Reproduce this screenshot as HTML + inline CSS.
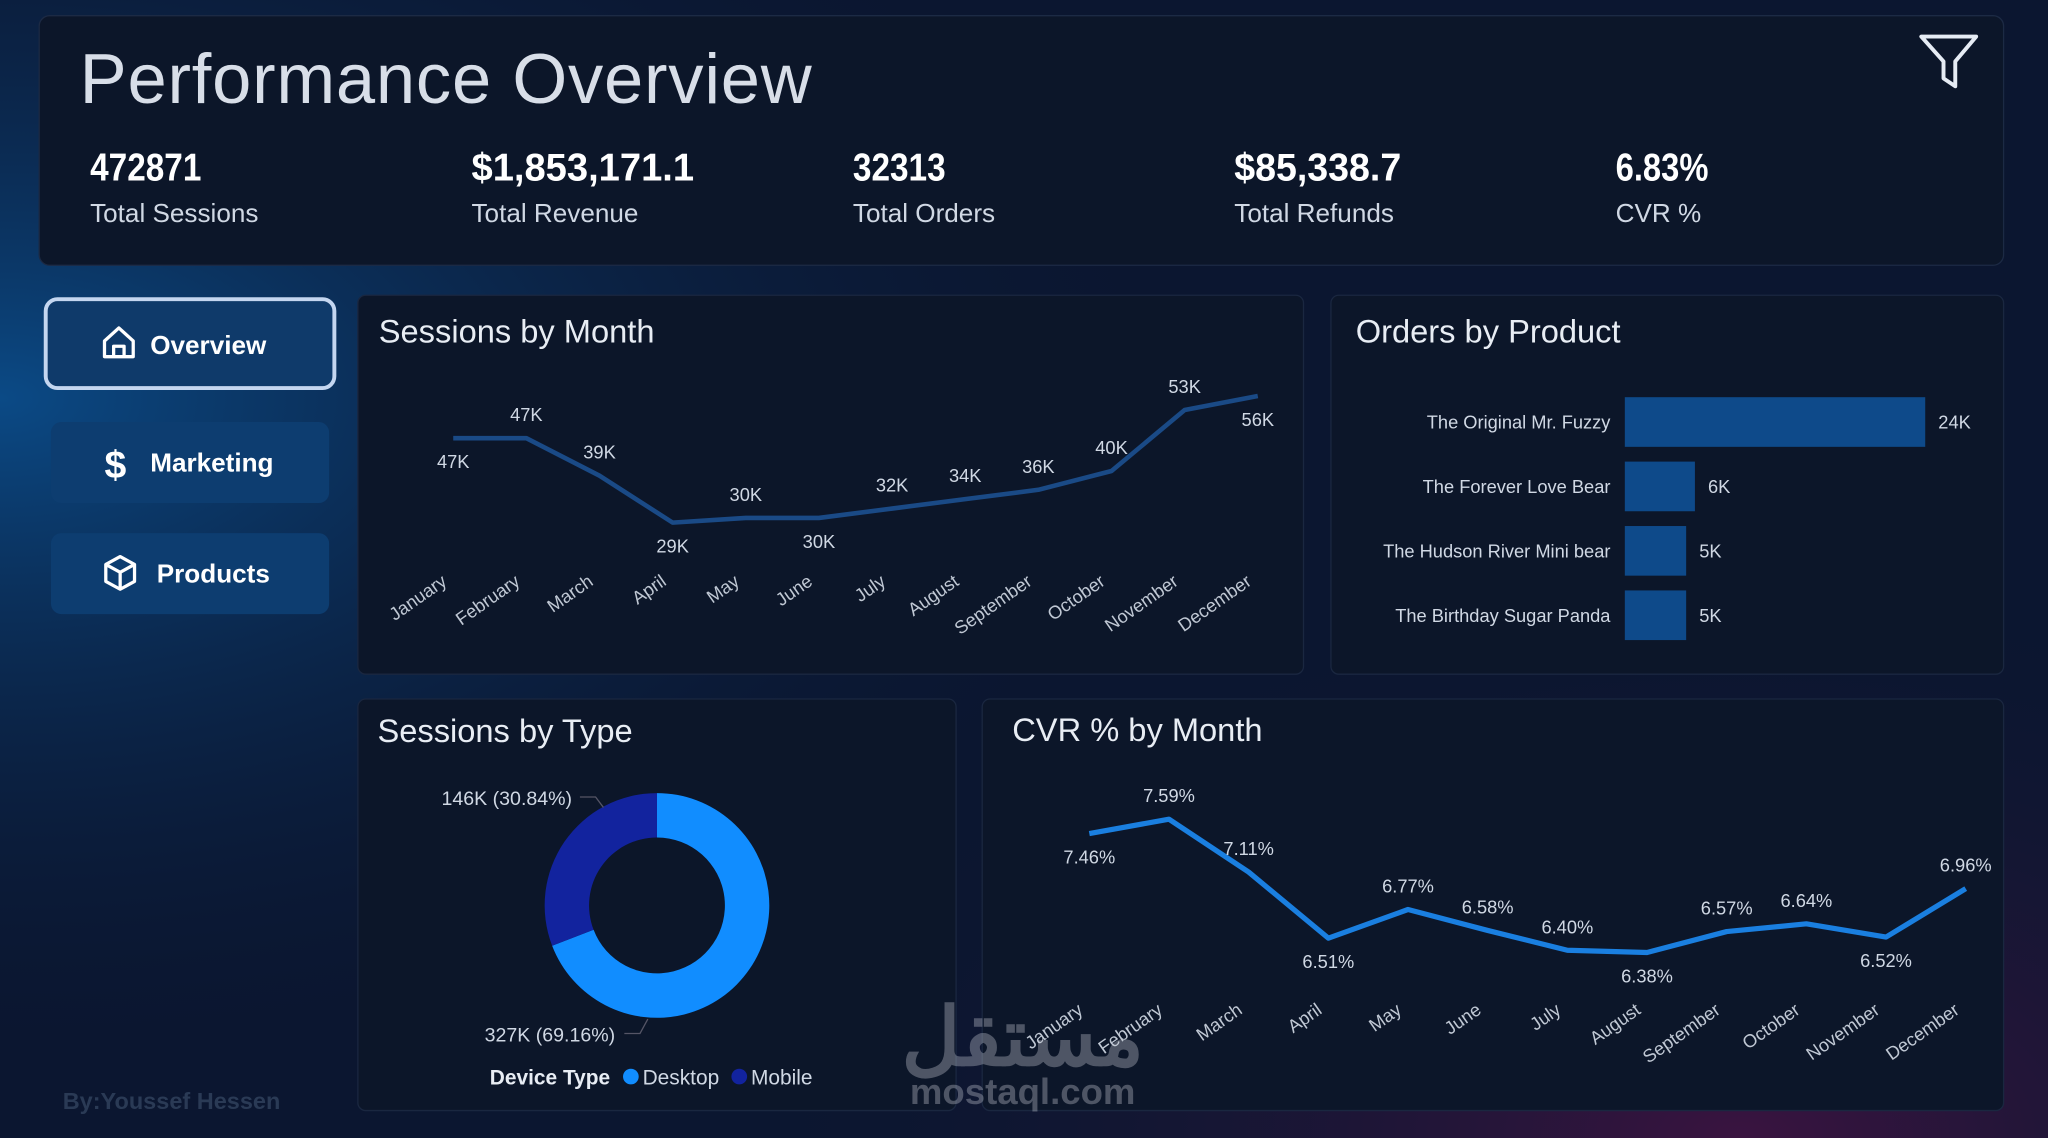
<!DOCTYPE html>
<html><head><meta charset="utf-8"><style>
html,body{margin:0;padding:0;background:#0a1428;overflow:hidden}
svg{display:block;font-family:"Liberation Sans","Noto Sans CJK SC",sans-serif}
</style></head><body>
<svg id="root" width="2048" height="1138" viewBox="0 0 1568 871" preserveAspectRatio="none">
<defs>
<radialGradient id="glowL" cx="0" cy="0.35" r="0.6"><stop offset="0" stop-color="#0b4a86"/><stop offset="1" stop-color="#0a1630" stop-opacity="0"/></radialGradient>
<radialGradient id="glowR" cx="0.85" cy="1" r="0.5"><stop offset="0" stop-color="#3a1440"/><stop offset="1" stop-color="#0a1630" stop-opacity="0"/></radialGradient>
</defs>
<rect width="1568" height="871" fill="#0b1630"/>
<rect width="1568" height="871" fill="url(#glowL)"/>
<rect width="1568" height="871" fill="url(#glowR)"/>

<g>
<rect x="30" y="12" width="1504" height="191" rx="8" fill="#0c1629" stroke="#1c2a44"/>
<text x="61" y="79" font-size="54" fill="#d8dee8" letter-spacing="0.6">Performance Overview</text>
<g><path d="M1471 28 L1513 28 L1497 47 L1497 66 L1488 60 L1488 47 Z" fill="none" stroke="#e6ecf4" stroke-width="3" stroke-linejoin="round"/></g>
</g>
<g id="kpis"></g>

<g>
<g>
<rect x="35" y="229" width="221" height="68" rx="9" fill="#0f3a6a" stroke="#c4d6f0" stroke-width="3"/>
<path d="M80 273 L80 261 L91 251 L102 261 L102 273 Z M87 273 L87 265 L95 265 L95 273" fill="none" stroke="#fff" stroke-width="2.5" stroke-linejoin="round"/>
<text x="115" y="271" font-size="20" font-weight="bold" fill="#fff">Overview</text></g>
<g>
<rect x="39" y="323" width="213" height="62" rx="8" fill="#0d3d70"/>
<text x="80" y="366" font-size="30" font-weight="bold" fill="#fff">$</text>
<text x="115" y="361" font-size="20" font-weight="bold" fill="#fff">Marketing</text></g>
<g>
<rect x="39" y="408" width="213" height="62" rx="8" fill="#0d3d70"/>
<path d="M92 426 L103 432 L103 445 L92 451 L81 445 L81 432 Z M81 432 L92 438 L103 432 M92 438 L92 451" fill="none" stroke="#fff" stroke-width="2.5" stroke-linejoin="round"/>
<text x="120" y="446" font-size="20" font-weight="bold" fill="#fff">Products</text></g>
</g>
<text x="48" y="849" font-size="18" font-weight="bold" fill="#2a3a55">By:Youssef Hessen</text>

<g>
<rect x="274" y="226" width="724" height="290" rx="6" fill="#0c1629" stroke="#1a2740"/>
<text x="290" y="262" font-size="25" fill="#e8edf4">Sessions by Month</text>
<g id="sessChart"></g></g>

<g>
<rect x="1019" y="226" width="515" height="290" rx="6" fill="#0c1629" stroke="#1a2740"/>
<text x="1038" y="262" font-size="25" fill="#e8edf4">Orders by Product</text>
<g id="ordChart"></g></g>

<g>
<rect x="274" y="535" width="458" height="315" rx="6" fill="#0c1629" stroke="#1a2740"/>
<text x="289" y="568" font-size="25" fill="#e8edf4">Sessions by Type</text>
<g id="donut"></g>
<g>
<text x="375" y="830" font-size="16" font-weight="bold" fill="#e8edf4">Device Type</text>
<circle cx="483" cy="824" r="6" fill="#118dff"/><text x="492" y="830" font-size="16" fill="#d0d8e4">Desktop</text>
<circle cx="566" cy="824" r="6" fill="#12239e"/><text x="575" y="830" font-size="16" fill="#d0d8e4">Mobile</text></g>
</g>

<g>
<rect x="752" y="535" width="782" height="315" rx="6" fill="#0c1629" stroke="#1a2740"/>
<text x="775" y="567" font-size="25" fill="#e8edf4">CVR % by Month</text>
<g id="cvrChart"></g></g>

<g opacity="0.35">
<text x="783" y="815" font-size="62" font-weight="bold" fill="#c8ccd4" text-anchor="middle" font-family="'Noto Sans CJK SC',sans-serif">مستقل</text>
<text x="783" y="845" font-size="28" font-weight="bold" fill="#c8ccd4" text-anchor="middle">mostaql.com</text></g>
</svg>
<script>
const NS='http://www.w3.org/2000/svg';
function mk(p,t,a,txt){const e=document.createElementNS(NS,t);for(const k in a)e.setAttribute(k,a[k]);if(txt!=null)e.textContent=txt;p.appendChild(e);return e;}
const months=['January','February','March','April','May','June','July','August','September','October','November','December'];
const kpiValues=['472871','$1,853,171.1','32313','$85,338.7','6.83%'];
const kpiLabels=['Total Sessions','Total Revenue','Total Orders','Total Refunds','CVR %'];
const sessValues=[47,47,39,29,30,30,32,34,36,40,53,56];
const sessLabelPos=[1,-1,-1,1,-1,1,-1,-1,-1,-1,-1,1];
const products=['The Original Mr. Fuzzy','The Forever Love Bear','The Hudson River Mini bear','The Birthday Sugar Panda'];
const orderValues=[24,5.6,4.9,4.9];
const typeNames=['Desktop','Mobile'];
const typeValues=[327038,145833];
const cvrValues=[7.46,7.59,7.11,6.51,6.77,6.58,6.40,6.38,6.57,6.64,6.52,6.96];
const cvrLabelPos=[1,-1,-1,1,-1,-1,-1,1,-1,-1,1,-1];

const kp=document.getElementById('kpis');
kpiValues.forEach((v,i)=>{const x=69+i*292;
 const a=mk(kp,'text',{x:x,y:138,'font-size':30,'font-weight':'bold',fill:'#fff',textLength:v.length*14.2,lengthAdjust:'spacingAndGlyphs'},v);
 
 
 const b=mk(kp,'text',{x:x,y:170,'font-size':20,fill:'#d0d8e4'},kpiLabels[i]);
 
 });

(function(){const g=document.getElementById('sessChart');
 const X=i=>347+i*56, Y=v=>400-(v-29)*3.59;
 const pts=sessValues.map((v,i)=>X(i)+','+Y(v)).join(' ');
 const l=mk(g,'polyline',{points:pts,fill:'none',stroke:'#1a4a86','stroke-width':3.5,'stroke-linejoin':'round'});
 
 
 sessValues.forEach((v,i)=>{const dy=sessLabelPos[i]>0?23:-13;
  const t=mk(g,'text',{x:X(i),y:Y(v)+dy,'font-size':14,fill:'#d0d8e4','text-anchor':'middle'},v+'K');
  
  
  const m=mk(g,'text',{x:X(i)-4,y:447,'font-size':14,fill:'#c0c8d4','text-anchor':'end',transform:'rotate(-35 '+(X(i)-4)+' 447)'},months[i]);
  
  });
})();

(function(){const g=document.getElementById('ordChart');
 const W=v=>v*230/24;
 products.forEach((p,i)=>{const cy=323+i*49.3;
  const r=mk(g,'rect',{x:1244,y:cy-19,width:W(orderValues[i]),height:38,fill:'#0e4a8a'});
  
  
  const n=mk(g,'text',{x:1233,y:cy+5,'font-size':14,fill:'#d0d8e4','text-anchor':'end'},p);
  
  
  const v=mk(g,'text',{x:1244+W(orderValues[i])+10,y:cy+5,'font-size':14,fill:'#d0d8e4'},Math.round(orderValues[i])+'K');
  
  });
})();

(function(){const g=document.getElementById('donut');const cx=503,cy=693,R=86,r=52;
 const tot=typeValues.reduce((a,b)=>a+b,0);const cols=['#118dff','#12239e'];let a0=0;
 typeValues.forEach((v,i)=>{const a1=a0+v/tot*2*Math.PI;
  const P=(rr,a)=>[cx+rr*Math.sin(a),cy-rr*Math.cos(a)];const lg=(a1-a0)>Math.PI?1:0;
  const [x1,y1]=P(R,a0),[x2,y2]=P(R,a1),[x3,y3]=P(r,a1),[x4,y4]=P(r,a0);
  const s=mk(g,'path',{d:`M${x1} ${y1}A${R} ${R} 0 ${lg} 1 ${x2} ${y2}L${x3} ${y3}A${r} ${r} 0 ${lg} 0 ${x4} ${y4}Z`,fill:cols[i]});
  
  
  a0=a1;});
 const lab=v=>Math.round(v/1000)+'K ('+(v/tot*100).toFixed(2)+'%)';
 const t1=mk(g,'text',{x:438,y:616,'font-size':15,fill:'#d0d8e4','text-anchor':'end'},lab(typeValues[1]));
 
 
 mk(g,'polyline',{points:'444,610 456,610 462,618',fill:'none',stroke:'#556','stroke-width':1});
 const t2=mk(g,'text',{x:471,y:797,'font-size':15,fill:'#d0d8e4','text-anchor':'end'},lab(typeValues[0]));
 
 
 mk(g,'polyline',{points:'478,791 490,791 496,780',fill:'none',stroke:'#556','stroke-width':1});
})();

(function(){const g=document.getElementById('cvrChart');
 const X=i=>834+i*61, Y=v=>729-(v-6.38)*84.3;
 const pts=cvrValues.map((v,i)=>X(i)+','+Y(v)).join(' ');
 const l=mk(g,'polyline',{points:pts,fill:'none',stroke:'#1a7fe0','stroke-width':4,'stroke-linejoin':'round'});
 
 
 cvrValues.forEach((v,i)=>{const dy=cvrLabelPos[i]>0?23:-13;
  const t=mk(g,'text',{x:X(i),y:Y(v)+dy,'font-size':14,fill:'#d0d8e4','text-anchor':'middle'},v.toFixed(2)+'%');
  
  
  const m=mk(g,'text',{x:X(i)-4,y:775,'font-size':14,fill:'#c0c8d4','text-anchor':'end',transform:'rotate(-35 '+(X(i)-4)+' 775)'},months[i]);
  
  });
})();
</script>
</body></html>
